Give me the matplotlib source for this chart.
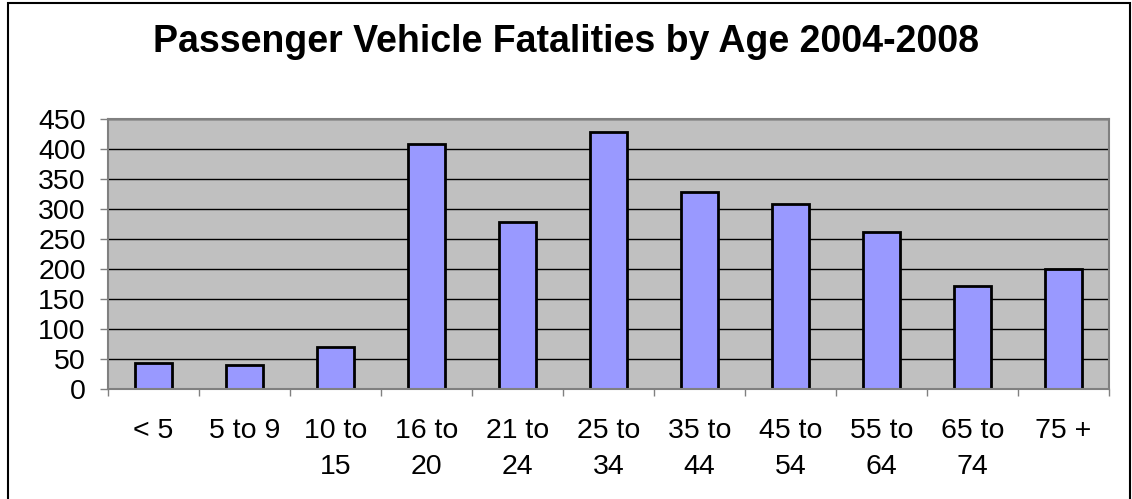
import matplotlib
matplotlib.use("Agg")
import matplotlib.pyplot as plt
from matplotlib.patches import Rectangle

# ===============================
# DATA
# ===============================

age_groups = ["< 5", "5 to 9", "10 to\n15", "16 to\n20", "21 to\n24", "25 to\n34",
              "35 to\n44", "45 to\n54", "55 to\n64", "65 to\n74", "75 +"]
fatalities = [44, 41, 70, 409, 278, 428, 329, 309, 262, 172, 200]
y_ticks = [0, 50, 100, 150, 200, 250, 300, 350, 400, 450]

# ===============================
# PLOT
# ===============================

plt.rcParams["font.family"] = ["Liberation Sans", "DejaVu Sans"]

fig = plt.figure(figsize=(11.32, 4.99), dpi=100)
ax = fig.add_axes([0.0954, 0.2198, 0.8843, 0.5412])

# outer chart border
fig.patches.append(Rectangle((8 / 1132, -0.02), 1122 / 1132, 1.02 - 3 / 499,
                             transform=fig.transFigure, fill=False,
                             edgecolor="black", linewidth=1.5))

ax.set_facecolor("#C0C0C0")
ax.set_axisbelow(True)
ax.yaxis.grid(True, color="black", linewidth=1.0)

x = list(range(len(age_groups)))
ax.bar(x, fatalities, width=0.4, color="#9999FF", edgecolor="black", linewidth=2)

ax.set_xlim(-0.5, len(age_groups) - 0.5)
ax.set_ylim(0, 450)
ax.set_yticks(y_ticks)
ax.tick_params(axis="y", labelsize=20.5, length=6, width=1, color="#808080", pad=10)

# category ticks sit between bars, labels under the bars
ax.set_xticks([i - 0.5 for i in range(len(age_groups) + 1)])
ax.set_xticklabels([])
ax.set_xticks(x, minor=True)
ax.set_xticklabels(age_groups, minor=True, fontsize=20.5, linespacing=1.5, va="top")
ax.tick_params(axis="x", which="major", length=5, width=1, color="#808080")
ax.tick_params(axis="x", which="minor", length=0, pad=21)

for spine in ax.spines.values():
    spine.set_color("#808080")
    spine.set_linewidth(1.5)

fig.text(0.5, 1 - 52 / 499, "Passenger Vehicle Fatalities by Age 2004-2008",
         ha="center", va="baseline", fontsize=27, fontweight="bold")

fig.savefig("out.png", dpi=100)
